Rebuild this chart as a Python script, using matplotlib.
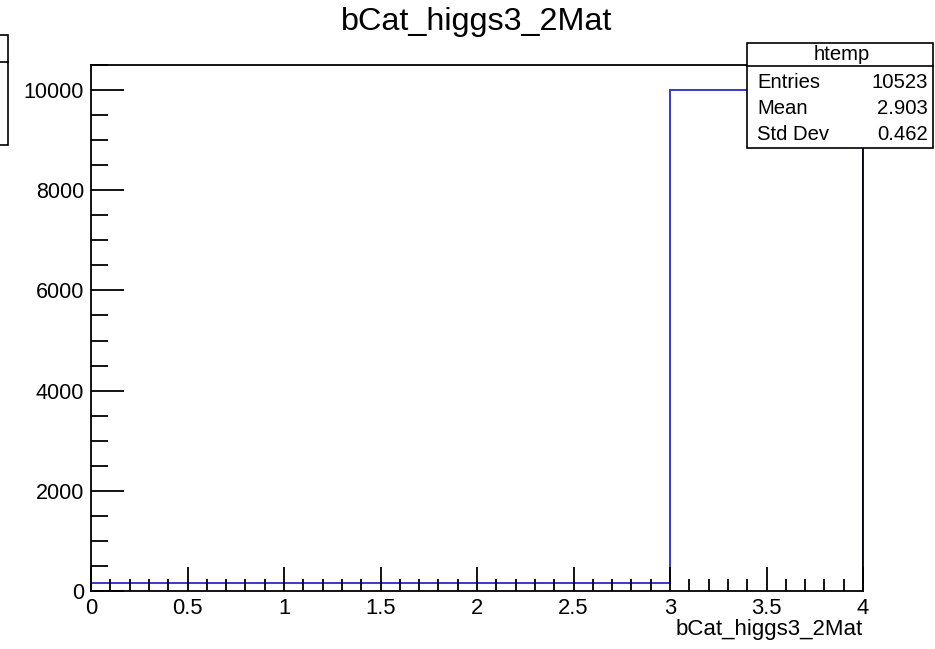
import numpy as np
import matplotlib
matplotlib.use("Agg")
import matplotlib.pyplot as plt
from matplotlib.patches import Rectangle
from matplotlib.ticker import MultipleLocator, FuncFormatter

plt.rcParams['font.family'] = ['Liberation Sans', 'DejaVu Sans']

# Histogram data
bin_edges = [0.0, 3.0, 4.0]
counts = [160, 10010]
title = "bCat_higgs3_2Mat"
stats_name = "htemp"
stats_labels = ["Entries", "Mean", "Std Dev"]
stats_values = ["10523", "2.903", "0.462"]

fig = plt.figure(figsize=(9.35, 6.49), dpi=100)
ax = fig.add_axes([91/935, 1-591/649, (863-91)/935, (591-65)/649])

ax.stairs(counts, bin_edges, color='#3838d0', linewidth=1.4)

ax.set_xlim(0, 4)
ax.set_ylim(0, 10500)

ax.xaxis.set_major_locator(MultipleLocator(0.5))
ax.xaxis.set_minor_locator(MultipleLocator(0.1))
ax.yaxis.set_major_locator(MultipleLocator(2000))
ax.yaxis.set_minor_locator(MultipleLocator(500))
ax.xaxis.set_major_formatter(FuncFormatter(lambda v, p: f"{v:g}"))
ax.yaxis.set_major_formatter(FuncFormatter(lambda v, p: f"{v:g}"))

ax.tick_params(axis='x', which='major', direction='in', length=17, width=1.3,
               labelsize=15.8, pad=5, top=False)
ax.tick_params(axis='x', which='minor', direction='in', length=8.5, width=1.3, top=False)
ax.tick_params(axis='y', which='major', direction='in', length=24, width=1.3,
               labelsize=15.5, pad=5, right=False)
ax.tick_params(axis='y', which='minor', direction='in', length=12.5, width=1.3, right=False)
for s in ax.spines.values():
    s.set_linewidth(1.3)

fig.text(477/935, 1-22/649, title, ha='center', va='center', fontsize=23.3)
fig.text(863/935, 1-630/649, title, ha='right', va='center', fontsize=16)

# stats box
x0, x1 = 747/935, 933/935
y0, y1 = 1-148/649, 1-43/649
fig.patches.append(Rectangle((x0, y0), x1-x0, y1-y0, transform=fig.transFigure,
                             facecolor='white', edgecolor='black', linewidth=1.2, zorder=5))
fig.lines.append(plt.Line2D([x0, x1], [1-66/649, 1-66/649], transform=fig.transFigure,
                            color='black', linewidth=1.2, zorder=6))
fig.text(842/935, 1-55/649, stats_name, ha='center', va='center', fontsize=14.6, zorder=7)
rows_y = [83, 109, 134]
for lab, val, yy in zip(stats_labels, stats_values, rows_y):
    fig.text(757/935, 1-yy/649, lab, ha='left', va='center', fontsize=14.6, zorder=7)
    fig.text(928/935, 1-yy/649, val, ha='right', va='center', fontsize=14.6, zorder=7)

# partially visible box at the left edge
fig.patches.append(Rectangle((-0.01, 1-145/649), 0.01+8/935, (145-35)/649,
                             transform=fig.transFigure, facecolor='white',
                             edgecolor='black', linewidth=1.2))
fig.lines.append(plt.Line2D([0, 8/935], [1-62/649, 1-62/649], transform=fig.transFigure,
                            color='black', linewidth=1.2))

fig.savefig("out.png", dpi=100)
